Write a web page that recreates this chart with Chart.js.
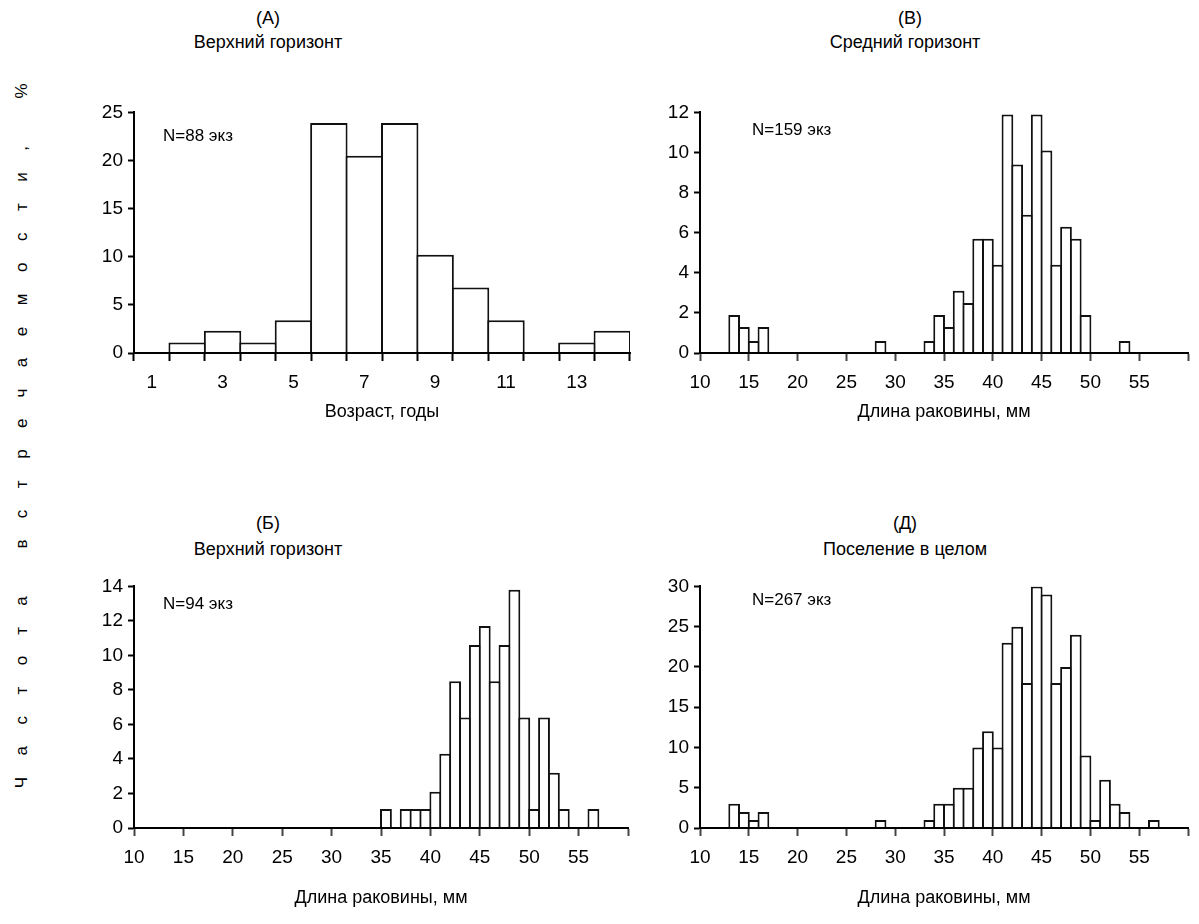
<!DOCTYPE html>
<html lang="ru">
<head>
<meta charset="utf-8">
<title>Частота встречаемости</title>
<script src="https://cdn.jsdelivr.net/npm/chart.js@4.4.1/dist/chart.umd.min.js"></script>
<style>
  html, body { margin: 0; padding: 0; background: #fff; }
  #page { position: relative; width: 1199px; height: 924px; overflow: hidden;
          font-family: "Liberation Sans", Arial, sans-serif; color: #000; }
  .box { position: absolute; }
  .txt { position: absolute; font-size: 18px; white-space: nowrap; transform: translate(-50%, -50%); }
  .note { position: absolute; font-size: 17px; white-space: nowrap; transform: translateY(-50%); }
  #ytitle { position: absolute; left: 22px; top: 425px; font-size: 17px; letter-spacing: 21.5px;
            white-space: nowrap; transform: translate(-50%, -50%) rotate(-90deg); }
</style>
</head>
<body>
<div id="page">
  <div class="txt" style="left:268px; top:18px">(А)</div>
  <div class="txt" style="left:268px; top:42px">Верхний горизонт</div>
  <div class="txt" style="left:910px; top:18px">(В)</div>
  <div class="txt" style="left:905px; top:42px">Средний горизонт</div>
  <div class="txt" style="left:268px; top:523px">(Б)</div>
  <div class="txt" style="left:268px; top:549px">Верхний горизонт</div>
  <div class="txt" style="left:905px; top:523px">(Д)</div>
  <div class="txt" style="left:905px; top:549px">Поселение в целом</div>

  <div id="ytitle">Частота встречаемости, %</div>

  <div class="box" style="left:84px; top:96px; width:554px; height:331px"><canvas id="chartA" width="554" height="331"></canvas></div>
  <div class="box" style="left:650px; top:96px; width:548px; height:331px"><canvas id="chartB" width="548" height="331"></canvas></div>
  <div class="box" style="left:84px; top:570px; width:554px; height:343px"><canvas id="chartC" width="554" height="343"></canvas></div>
  <div class="box" style="left:650px; top:570px; width:548px; height:343px"><canvas id="chartD" width="548" height="343"></canvas></div>

  <div class="note" style="left:163px; top:136px">N=88 экз</div>
  <div class="note" style="left:752px; top:130px">N=159 экз</div>
  <div class="note" style="left:163px; top:604px">N=94 экз</div>
  <div class="note" style="left:752px; top:600px">N=267 экз</div>
</div>

<script>
// Возраст (годы), верхний горизонт, %
const ageLabels = ['1', '2', '3', '4', '5', '6', '7', '8', '9', '10', '11', '12', '13', '14'];
const ageUpper = [0, 1.1, 2.3, 1.1, 3.4, 23.9, 20.5, 23.9, 10.2, 6.8, 3.4, 0, 1.1, 2.3];

// Длина раковины, левая граница класса 1 мм
const lengthBins = [10, 11, 12, 13, 14, 15, 16, 17, 18, 19,
                    20, 21, 22, 23, 24, 25, 26, 27, 28, 29,
                    30, 31, 32, 33, 34, 35, 36, 37, 38, 39,
                    40, 41, 42, 43, 44, 45, 46, 47, 48, 49,
                    50, 51, 52, 53, 54, 55, 56, 57, 58, 59];
const lengthTicks = [10, 15, 20, 25, 30, 35, 40, 45, 50, 55];

// (В) средний горизонт, %
const lengthMiddle = [0, 0, 0, 1.9, 1.3, 0.6, 1.3, 0, 0, 0,
                      0, 0, 0, 0, 0, 0, 0, 0, 0.6, 0,
                      0, 0, 0, 0.6, 1.9, 1.3, 3.1, 2.5, 5.7, 5.7,
                      4.4, 11.9, 9.4, 6.9, 11.9, 10.1, 4.4, 6.3, 5.7, 1.9,
                      0, 0, 0, 0.6, 0, 0, 0, 0, 0, 0];
// (Б) верхний горизонт, %
const lengthUpper = [0, 0, 0, 0, 0, 0, 0, 0, 0, 0,
                     0, 0, 0, 0, 0, 0, 0, 0, 0, 0,
                     0, 0, 0, 0, 0, 1.1, 0, 1.1, 1.1, 1.1,
                     2.1, 4.3, 8.5, 6.4, 10.6, 11.7, 8.5, 10.6, 13.8, 6.4,
                     1.1, 6.4, 3.2, 1.1, 0, 0, 1.1, 0, 0, 0];
// (Д) поселение в целом
const lengthTotal = [0, 0, 0, 3, 2, 1, 2, 0, 0, 0,
                     0, 0, 0, 0, 0, 0, 0, 0, 1, 0,
                     0, 0, 0, 1, 3, 3, 5, 5, 10, 12,
                     10, 23, 25, 18, 30, 29, 18, 20, 24, 9,
                     1, 6, 3, 2, 0, 0, 1, 0, 0, 0];

const TICK_FONT = { family: '"Liberation Sans", Arial, sans-serif', size: 19 };
const TITLE_FONT = { family: '"Liberation Sans", Arial, sans-serif', size: 18 };
const INK = '#000';

function yScale(max, step) {
    return {
        min: 0, max: max,
        ticks: { stepSize: step, color: INK, font: TICK_FONT, padding: 5 },
        grid: { drawOnChartArea: false, drawTicks: true, tickLength: 6, tickWidth: 2, tickColor: INK },
        border: { display: true, color: INK, width: 2, z: 1 },
        afterFit: (scale) => { scale.width = 50; }
    };
}

function axisTitle(text) {
    return { display: true, text: text, color: INK, font: TITLE_FONT, padding: { top: 0, bottom: 4 } };
}

function histogram(canvasId, data, xScale, yMax, yStep, barPct) {
    return new Chart(document.getElementById(canvasId), {
        type: 'bar',
        data: {
            labels: xScale.type === 'category' ? ageLabels : undefined,
            datasets: [{
                data: data,
                backgroundColor: '#fff',
                borderColor: '#111',
                borderWidth: 2,
                barPercentage: barPct,
                categoryPercentage: 1
            }]
        },
        options: {
            responsive: false,
            animation: false,
            layout: { padding: { top: 12, right: 8, bottom: 0, left: 0 } },
            plugins: { legend: { display: false }, tooltip: { enabled: false } },
            scales: { x: xScale, y: yScale(yMax, yStep) }
        }
    });
}

function lengthAxis(height) {
    return {
        type: 'linear', min: 10, max: 60, offset: false,
        ticks: {
            stepSize: 5, color: INK, font: TICK_FONT, padding: 10, maxRotation: 0, autoSkip: false,
            callback: (v) => lengthTicks.includes(v) ? String(v) : ''
        },
        grid: { offset: false, drawOnChartArea: false, drawTicks: true, tickLength: 8, tickWidth: 2, tickColor: '#444' },
        border: { display: true, color: INK, width: 2, z: 1 },
        title: axisTitle('Длина раковины, мм'),
        afterFit: (scale) => { scale.height = height; }
    };
}

function lengthPoints(values) {
    return lengthBins.map((b, i) => ({ x: b + 0.5, y: values[i] }));
}

// (А) возраст
histogram('chartA', ageUpper, {
    type: 'category', offset: true,
    ticks: {
        color: INK, font: TICK_FONT, padding: 10, maxRotation: 0, autoSkip: false,
        callback: (v, i) => i % 2 === 0 ? ageLabels[i] : ''
    },
    grid: { offset: true, drawOnChartArea: false, drawTicks: true, tickLength: 8, tickWidth: 2, tickColor: INK },
    border: { display: true, color: INK, width: 2, z: 1 },
    title: axisTitle('Возраст, годы'),
    afterFit: (scale) => { scale.height = 74; }
}, 25, 5, 1.056);

histogram('chartB', lengthPoints(lengthMiddle), lengthAxis(74), 12, 2, 1.2);
histogram('chartC', lengthPoints(lengthUpper), lengthAxis(85), 14, 2, 1.2);
histogram('chartD', lengthPoints(lengthTotal), lengthAxis(85), 30, 5, 1.2);
</script>
</body>
</html>
